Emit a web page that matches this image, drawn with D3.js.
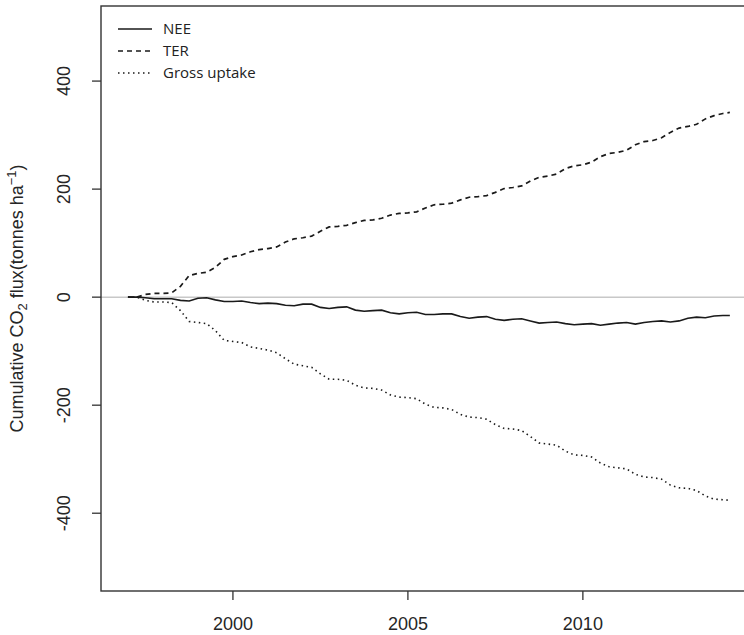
<!DOCTYPE html>
<html>
<head>
<meta charset="utf-8">
<script src="https://cdn.jsdelivr.net/npm/d3@7"></script>
<style>
  body { margin: 0; background: #fff; }
  svg { display: block; }
  .tick-label { font-family: "Liberation Sans", Arial, sans-serif; font-size: 18px; fill: #262626; }
  .legend-label { font-family: "Open Sans", sans-serif; font-size: 15px; fill: #222; }
</style>
</head>
<body>
<div id="chart"></div>
<script>
// quarterly time points (decimal years)
const years = [
  1997.00, 1997.25, 1997.50, 1997.75, 1998.00, 1998.25, 1998.50, 1998.75,
  1999.00, 1999.25, 1999.50, 1999.75, 2000.00, 2000.25, 2000.50, 2000.75,
  2001.00, 2001.25, 2001.50, 2001.75, 2002.00, 2002.25, 2002.50, 2002.75,
  2003.00, 2003.25, 2003.50, 2003.75, 2004.00, 2004.25, 2004.50, 2004.75,
  2005.00, 2005.25, 2005.50, 2005.75, 2006.00, 2006.25, 2006.50, 2006.75,
  2007.00, 2007.25, 2007.50, 2007.75, 2008.00, 2008.25, 2008.50, 2008.75,
  2009.00, 2009.25, 2009.50, 2009.75, 2010.00, 2010.25, 2010.50, 2010.75,
  2011.00, 2011.25, 2011.50, 2011.75, 2012.00, 2012.25, 2012.50, 2012.75,
  2013.00, 2013.25, 2013.50, 2013.75, 2014.00, 2014.20
];

const nee = [
  0, 0, -1, -3, -3, -3, -6, -7,
  -2, -1, -5, -8, -8, -7, -10, -12,
  -11, -12, -15, -16, -13, -13, -19, -21,
  -19, -18, -24, -26, -25, -24, -29, -31,
  -29, -28, -32, -32, -31, -31, -36, -39,
  -37, -36, -41, -43, -41, -40, -44, -48,
  -47, -46, -49, -51, -50, -49, -52, -50,
  -48, -47, -50, -47, -45, -44, -46, -44,
  -39, -37, -38, -35, -34, -34
];

const ter = [
  0, 0, 5, 7, 7, 8, 20, 40,
  44, 46, 55, 70, 75, 78, 84, 88,
  90, 93, 102, 108, 110, 113, 122, 130,
  131, 133, 138, 142, 143, 146, 152, 155,
  156, 158, 165, 171, 172, 174, 180, 185,
  186, 188, 194, 201, 203, 206, 215, 222,
  224, 228, 238, 243, 245, 250, 260, 266,
  268, 272, 282, 288, 290, 295, 305, 313,
  316, 320, 330, 336, 340, 342
];

const grossUptake = [
  0, 0, -6, -9, -9, -10, -25, -45,
  -47, -49, -62, -80, -82, -84, -92, -95,
  -98, -103, -114, -124, -127, -130, -142, -152,
  -152, -154, -163, -168, -169, -172, -181, -185,
  -186, -188, -198, -204, -205, -208, -217, -222,
  -223, -226, -236, -243, -244, -247, -258, -270,
  -272, -274, -285, -292, -293, -296, -307, -314,
  -316, -318, -328, -333, -334, -337, -348, -353,
  -354, -358, -368, -374, -375, -376
];

const seriesNames = ['NEE', 'TER', 'Gross uptake'];
const xTicks = [2000, 2005, 2010];
const yTicks = [-400, -200, 0, 200, 400];

const width = 744, height = 635;
const plot = { left: 101, top: 6, right: 754, bottom: 591 };

const svg = d3.select('#chart').append('svg')
  .attr('width', width)
  .attr('height', height);

const x = d3.scaleLinear()
  .domain([1996.23, 2014.89])
  .range([plot.left, plot.right]);

const y = d3.scaleLinear()
  .domain([-544, 539])
  .range([plot.bottom, plot.top]);

// zero reference line
svg.append('line')
  .attr('x1', plot.left).attr('x2', plot.right)
  .attr('y1', y(0)).attr('y2', y(0))
  .attr('stroke', '#c8c8c8')
  .attr('stroke-width', 1.5);

const styles = [
  { dash: null, width: 1.6 },
  { dash: '5,4', width: 1.7 },
  { dash: '1.5,3.5', width: 1.6 }
];
const values = [nee, ter, grossUptake];

const line = d3.line()
  .x((d, i) => x(years[i]))
  .y(d => y(d));

values.forEach((vals, k) => {
  svg.append('path')
    .datum(vals)
    .attr('fill', 'none')
    .attr('stroke', '#1a1a1a')
    .attr('stroke-width', styles[k].width)
    .attr('stroke-dasharray', styles[k].dash)
    .attr('d', line);
});

// frame
svg.append('rect')
  .attr('x', plot.left).attr('y', plot.top)
  .attr('width', plot.right - plot.left)
  .attr('height', plot.bottom - plot.top)
  .attr('fill', 'none')
  .attr('stroke', '#333')
  .attr('stroke-width', 1.4);

// x axis
const xAxis = svg.append('g');
xTicks.forEach(t => {
  xAxis.append('line')
    .attr('x1', x(t)).attr('x2', x(t))
    .attr('y1', plot.bottom).attr('y2', plot.bottom + 9)
    .attr('stroke', '#333').attr('stroke-width', 1.3);
  xAxis.append('text')
    .attr('class', 'tick-label')
    .attr('x', x(t)).attr('y', 629.5)
    .attr('text-anchor', 'middle')
    .text(t);
});

// y axis
const yAxis = svg.append('g');
yTicks.forEach(t => {
  yAxis.append('line')
    .attr('x1', plot.left - 9).attr('x2', plot.left)
    .attr('y1', y(t)).attr('y2', y(t))
    .attr('stroke', '#333').attr('stroke-width', 1.3);
  yAxis.append('text')
    .attr('class', 'tick-label')
    .attr('transform', `translate(69.5, ${y(t)}) rotate(-90)`)
    .attr('text-anchor', 'middle')
    .text(t);
});

// y title
const title = svg.append('text')
  .attr('class', 'tick-label')
  .attr('transform', `translate(23, ${(plot.top + plot.bottom) / 2}) rotate(-90)`)
  .attr('text-anchor', 'middle');
title.append('tspan').text('Cumulative CO');
title.append('tspan').attr('font-size', 13).attr('dy', 4).text('2');
title.append('tspan').attr('dy', -4).text(' flux(tonnes ha');
title.append('tspan').attr('font-size', 13).attr('dy', -7).text('\u22121');
title.append('tspan').attr('dy', 7).text(')');

// legend
const legend = svg.append('g');
seriesNames.forEach((name, k) => {
  const ly = 29 + k * 22;
  legend.append('line')
    .attr('x1', 118).attr('x2', 152)
    .attr('y1', ly).attr('y2', ly)
    .attr('stroke', '#1a1a1a')
    .attr('stroke-width', styles[k].width)
    .attr('stroke-dasharray', styles[k].dash);
  legend.append('text')
    .attr('class', 'legend-label')
    .attr('x', 163).attr('y', ly + 5)
    .text(name);
});
</script>
</body>
</html>
